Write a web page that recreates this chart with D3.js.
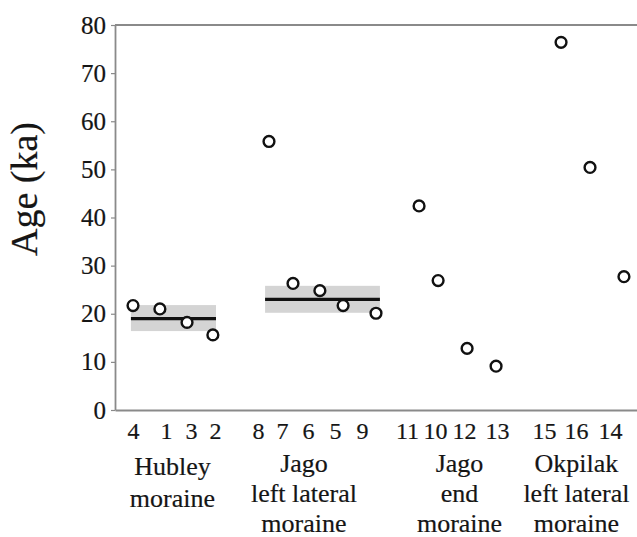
<!DOCTYPE html>
<html>
<head>
<meta charset="utf-8">
<script src="https://cdn.jsdelivr.net/npm/d3@7"></script>
<style>
  body { margin: 0; background: #fff; }
  svg { display: block; font-family: "Liberation Serif", "Times New Roman", serif; }
  .lbl { stroke: #151515; stroke-width: 0.2px; }
</style>
</head>
<body>
<svg id="chart" width="637" height="537"></svg>
<script>
// sample numbers, their positions along the x axis (slot units) and ages (ka)
const sampleIds   = ["4", "1", "3", "2", "8", "7", "6", "5", "9", "11", "10", "12", "13", "15", "16", "14"];
const samplePos   = [0.69, 1.72, 2.76, 3.75, 5.90, 6.82, 7.85, 8.74, 10.0, 11.65, 12.38, 13.49, 14.60, 17.09, 18.20, 19.50];
const sampleAges  = [21.7, 21.0, 18.2, 15.6, 55.8, 26.3, 24.8, 21.7, 20.1, 42.4, 26.9, 12.8, 9.1, 76.4, 50.4, 27.7];
const labelPos    = [0.69, 1.95, 2.91, 3.83, 5.48, 6.40, 7.39, 8.43, 9.46, 11.19, 12.26, 13.37, 14.64, 16.44, 17.66, 18.97];

// moraine groups
const groupNames  = [["Hubley", "moraine"], ["Jago", "left lateral", "moraine"], ["Jago", "end", "moraine"], ["Okpilak", "left lateral", "moraine"]];
const groupCenter = [2.2, 7.24, 13.2, 17.68];

// mean ages with uncertainty band
const meanStart = [0.61, 5.75];
const meanEnd   = [3.87, 10.15];
const meanAge   = [19.0, 23.0];
const meanLow   = [16.4, 20.2];
const meanHigh  = [21.8, 25.8];

const yTicks = [0, 10, 20, 30, 40, 50, 60, 70, 80];

const margin = { top: 25, left: 115, bottom: 127 };
const width = 637, height = 537;
const ink = "#151515";
// the two-line group sits a little lower in the original
const groupTop = [475, 472, 472, 472];
const groupLine = [32, 30, 30, 30];

const svg = d3.select("#chart");
const x = d3.scaleLinear().domain([0, 20]).range([margin.left, width]);
const y = d3.scaleLinear().domain([0, 80]).range([height - margin.bottom, margin.top]);

// bands and mean lines
const means = meanAge.map((m, i) => ({ x0: meanStart[i], x1: meanEnd[i], m, lo: meanLow[i], hi: meanHigh[i] }));
svg.append("g").selectAll("rect").data(means).join("rect")
    .attr("x", d => x(d.x0)).attr("width", d => x(d.x1) - x(d.x0))
    .attr("y", d => y(d.hi)).attr("height", d => y(d.lo) - y(d.hi))
    .attr("fill", "#d4d4d4");
svg.append("g").selectAll("line").data(means).join("line")
    .attr("x1", d => x(d.x0)).attr("x2", d => x(d.x1))
    .attr("y1", d => y(d.m)).attr("y2", d => y(d.m))
    .attr("stroke", "#111").attr("stroke-width", 3.2);

// frame: top border
svg.append("line")
    .attr("x1", x(0)).attr("x2", width).attr("y1", y(80)).attr("y2", y(80))
    .attr("stroke", "#8a8a8a").attr("stroke-width", 1.8);

// y axis
const yAxis = svg.append("g")
    .attr("transform", `translate(${x(0)},0)`)
    .call(d3.axisLeft(y).tickValues(yTicks).tickSize(4).tickSizeOuter(0).tickPadding(5));
yAxis.select(".domain").attr("stroke", "#8a8a8a").attr("stroke-width", 1.8);
yAxis.selectAll(".tick line").attr("stroke", "#8a8a8a").attr("stroke-width", 1.2);
yAxis.selectAll(".tick text")
    .attr("class", "lbl")
    .attr("font-family", "Liberation Serif").attr("font-size", 25).attr("fill", ink);

// x axis with sample numbers
const xAxis = svg.append("g")
    .attr("transform", `translate(0,${y(0)})`)
    .call(d3.axisBottom(x).tickValues(labelPos).tickSize(0).tickSizeOuter(0).tickPadding(12)
        .tickFormat((d, i) => sampleIds[i]));
xAxis.select(".domain").attr("stroke", "#8a8a8a").attr("stroke-width", 1.8);
xAxis.selectAll(".tick text")
    .attr("class", "lbl")
    .attr("font-family", "Liberation Serif").attr("font-size", 24).attr("fill", ink);

// group labels
const groups = svg.append("g").selectAll("g").data(groupNames).join("g")
    .attr("transform", (d, i) => `translate(${x(groupCenter[i])},${groupTop[i]})`);
groups.each(function(lines, i) {
    d3.select(this).selectAll("text").data(lines).join("text")
        .attr("class", "lbl")
        .attr("y", (d, j) => j * groupLine[i])
        .attr("text-anchor", "middle")
        .attr("font-size", 26).attr("fill", ink)
        .text(d => d);
});

// y title
svg.append("text")
    .attr("class", "lbl")
    .attr("transform", `translate(37,189) rotate(-90)`)
    .attr("text-anchor", "middle")
    .attr("font-size", 38).attr("fill", ink)
    .text("Age (ka)");

// sample points
svg.append("g").selectAll("circle").data(sampleAges).join("circle")
    .attr("cx", (d, i) => x(samplePos[i]))
    .attr("cy", d => y(d))
    .attr("r", 5.4)
    .attr("fill", "#fff").attr("stroke", "#111").attr("stroke-width", 2.4);
</script>
</body>
</html>
